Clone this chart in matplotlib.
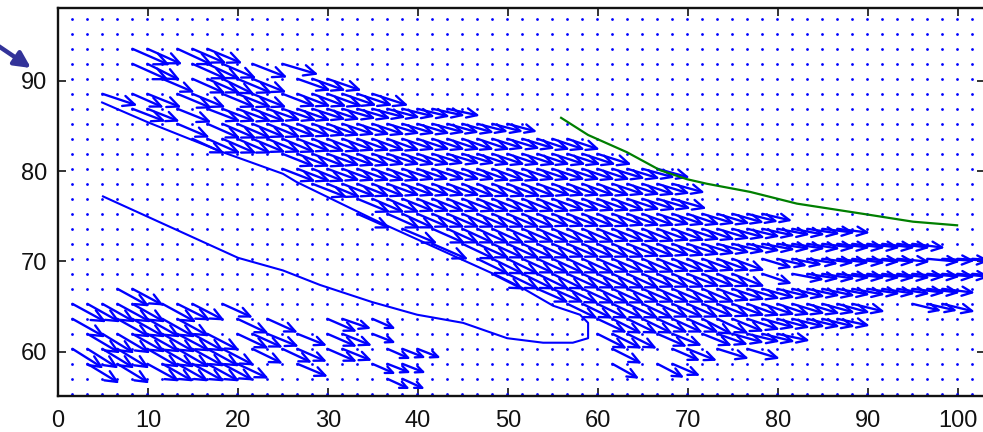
import numpy as np
import matplotlib
matplotlib.use('Agg')
import matplotlib.pyplot as plt
from matplotlib.collections import LineCollection

# wind field, one set of lists per grid row (rows with arrows only, rest are calm)
c23 = [4, 5, 7, 8, 9]
u23 = [3.9, 3.6, 3.7, 3.5, 3.6]
v23 = [-1.7, -1.6, -1.7, -1.5, -1.5]
c22 = [4, 5, 8, 9, 10, 12, 14]
u22 = [3.8, 3.4, 3.6, 3.4, 3.5, 3.6, 3.7]
v22 = [-1.7, -1.7, -1.6, -1.6, -1.5, -1.4, -1.1]
c21 = [6, 8, 9, 10, 11, 12, 15, 16, 17]
u21 = [3.3, 3.4, 3.4, 3.3, 3.6, 3.5, 3.4, 3.4, 3.5]
v21 = [-1.4, -1.5, -1.5, -1.6, -1.5, -1.4, -1.2, -1.2, -1.2]
c20 = [2, 4, 5, 7, 8, 10, 11, 12, 14, 15, 16, 17, 18, 19, 20]
u20 = [3.6, 3.2, 3.5, 3.6, 3.4, 3.4, 3.5, 3.5, 3.4, 3.4, 3.5, 3.6, 3.5, 3.6, 3.7]
v20 = [-1.2, -1.4, -1.4, -1.5, -1.4, -1.4, -1.4, -1.4, -1.3, -1.3, -1.3, -1.3, -1.2, -1.2, -1.2]
c19 = [4, 5, 7] + list(range(9, 26))
u19 = [3.4, 3.3, 3.5, 3.4, 3.4, 3.5, 3.4, 3.4, 3.5, 3.4, 3.4, 3.3, 3.4, 3.4, 3.4, 3.3, 3.3, 3.3, 3.3, 3.3]
v19 = [-1.3, -1.3, -1.4, -1.3, -1.3, -1.3, -1.3, -1.2, -1.2, -1.2, -1.1, -1.1, -1.0, -1.0, -0.9, -0.9, -0.8, -0.8, -0.7, -0.7]
c18 = [7] + list(range(9, 30))
u18 = [3.3, 3.4, 3.5, 3.5, 3.4, 3.4, 3.4, 3.4, 3.4, 3.3, 3.3, 3.3, 3.3, 3.3, 3.3, 3.3, 3.3, 3.2, 3.2, 3.1, 3.1, 3.0]
v18 = [-1.4, -1.5, -1.5, -1.5, -1.4, -1.4, -1.3, -1.3, -1.2, -1.2, -1.1, -1.1, -1.1, -1.0, -1.0, -1.0, -0.9, -0.9, -0.9, -0.8, -0.8, -0.8]
c17 = list(range(8, 34))
u17 = [3.3, 3.4, 3.5, 3.5, 3.4, 3.4, 3.4, 3.4, 3.3, 3.4, 3.3, 3.3, 3.3, 3.3, 3.3, 3.3, 3.3, 3.3, 3.2, 3.3, 3.2, 3.3, 3.3, 3.3, 3.3, 3.3]
v17 = [-1.5, -1.5, -1.5, -1.5, -1.4, -1.4, -1.4, -1.3, -1.3, -1.3, -1.2, -1.2, -1.2, -1.2, -1.1, -1.1, -1.1, -1.1, -1.1, -1.1, -1.0, -1.0, -1.0, -1.1, -1.1, -1.1]
c16 = list(range(14, 36))
u16 = [3.3, 3.3, 3.4, 3.3, 3.3, 3.3, 3.3, 3.3, 3.3, 3.3, 3.2, 3.3, 3.3, 3.3, 3.3, 3.3, 3.4, 3.3, 3.4, 3.4, 3.4, 3.5]
v16 = [-1.3, -1.3, -1.3, -1.2, -1.2, -1.2, -1.1, -1.1, -1.1, -1.1, -1.0, -1.0, -1.0, -1.1, -1.1, -1.1, -1.1, -1.1, -1.1, -1.1, -1.1, -1.1]
c15 = list(range(14, 40))
u15 = [3.4, 3.4, 3.3, 3.3, 3.3, 3.3, 3.3, 3.3, 3.3, 3.2, 3.3, 3.3, 3.3, 3.3, 3.3, 3.3, 3.3, 3.3, 3.3, 3.3, 3.3, 3.3, 3.3, 3.3, 3.3, 3.3]
v15 = [-1.3, -1.3, -1.3, -1.2, -1.2, -1.2, -1.2, -1.2, -1.1, -1.1, -1.1, -1.1, -1.1, -1.2, -1.2, -1.2, -1.1, -1.1, -1.1, -1.1, -1.1, -1.1, -1.0, -1.0, -0.9, -0.9]
c14 = list(range(16, 41))
u14 = [3.6, 3.4, 3.4, 3.3, 3.3, 3.3, 3.3, 3.3, 3.3, 3.3, 3.3, 3.3, 3.4, 3.4, 3.4, 3.4, 3.3, 3.3, 3.3, 3.3, 3.3, 3.3, 3.3, 3.3, 3.3]
v14 = [-1.4, -1.4, -1.3, -1.3, -1.3, -1.2, -1.2, -1.2, -1.2, -1.2, -1.3, -1.3, -1.3, -1.3, -1.3, -1.2, -1.2, -1.2, -1.2, -1.2, -1.1, -1.1, -1.1, -1.0, -0.9]
c13 = list(range(19, 41))
u13 = [3.4, 3.3, 3.3, 3.3, 3.3, 3.3, 3.3, 3.4, 3.3, 3.3, 3.3, 3.3, 3.3, 3.3, 3.3, 3.3, 3.3, 3.3, 3.3, 3.4, 3.4, 3.5]
v13 = [-1.4, -1.4, -1.4, -1.3, -1.3, -1.3, -1.3, -1.3, -1.3, -1.3, -1.3, -1.3, -1.3, -1.2, -1.2, -1.2, -1.2, -1.2, -1.1, -1.1, -1.0, -1.0]
c12 = [19] + list(range(21, 47))
u12 = [3.4, 3.4, 3.3, 3.3, 3.3, 3.3, 3.3, 3.3, 3.3, 3.3, 3.3, 3.3, 3.3, 3.3, 3.3, 3.3, 3.3, 3.3, 3.3, 3.3, 3.3, 3.3, 3.3, 3.3, 3.2, 3.1, 3.0]
v12 = [-1.5, -1.5, -1.5, -1.4, -1.4, -1.4, -1.4, -1.4, -1.4, -1.4, -1.4, -1.3, -1.3, -1.3, -1.3, -1.3, -1.2, -1.2, -1.2, -1.1, -1.1, -1.1, -1.0, -1.0, -0.9, -0.8, -0.7]
c11 = [22] + list(range(24, 52))
u11 = [3.6, 3.4, 3.3, 3.3, 3.3, 3.3, 3.3, 3.3, 3.3, 3.3, 3.3, 3.3, 3.3, 3.3, 3.3, 3.3, 3.3, 3.3, 3.3, 3.3, 3.3, 3.3, 3.3, 3.3, 3.3, 3.3, 3.3, 3.3, 3.3]
v11 = [-1.5, -1.5, -1.5, -1.5, -1.5, -1.5, -1.4, -1.4, -1.4, -1.4, -1.4, -1.4, -1.3, -1.3, -1.3, -1.3, -1.2, -1.2, -1.1, -1.1, -1.0, -0.9, -0.8, -0.7, -0.6, -0.6, -0.5, -0.4, -0.4]
c10 = [24] + list(range(26, 57))
u10 = [3.7, 3.4, 3.3, 3.3, 3.3, 3.3, 3.3, 3.3, 3.3, 3.3, 3.3, 3.3, 3.3, 3.3, 3.3, 3.3, 3.3, 3.3, 3.3, 3.3, 3.3, 3.3, 3.3, 3.3, 3.3, 3.3, 3.3, 3.3, 3.3, 3.3, 3.3, 3.3]
v10 = [-1.6, -1.6, -1.5, -1.5, -1.5, -1.5, -1.5, -1.4, -1.4, -1.4, -1.4, -1.4, -1.3, -1.3, -1.2, -1.2, -1.1, -1.0, -0.9, -0.8, -0.7, -0.6, -0.5, -0.5, -0.5, -0.4, -0.4, -0.4, -0.4, -0.4, -0.4, -0.4]
c9 = list(range(27, 45)) + list(range(46, 56)) + [57, 58, 59, 60]
u9 = [3.3, 3.3, 3.3, 3.3, 3.3, 3.3, 3.3, 3.3, 3.3, 3.3, 3.3, 3.3, 3.3, 3.3, 3.3, 3.3, 3.3, 3.3, 3.0, 3.0, 3.0, 3.1, 3.2, 3.2, 3.3, 3.3, 3.3, 3.3, 3.3, 3.3, 3.3, 3.3]
v9 = [-1.6, -1.6, -1.6, -1.5, -1.5, -1.5, -1.5, -1.5, -1.4, -1.4, -1.4, -1.4, -1.3, -1.3, -1.3, -1.2, -1.2, -1.2, -0.9, -0.7, -0.6, -0.5, -0.4, -0.4, -0.4, -0.3, -0.3, -0.3, -0.3, -0.2, -0.2, -0.2]
c8 = list(range(28, 45)) + [46] + list(range(48, 61))
u8 = [3.2, 3.3, 3.3, 3.3, 3.3, 3.3, 3.3, 3.3, 3.3, 3.3, 3.3, 3.3, 3.3, 3.3, 3.3, 3.3, 3.3, 3.0, 3.2, 3.2, 3.3, 3.3, 3.3, 3.3, 3.3, 3.3, 3.3, 3.3, 3.3, 3.3, 3.3]
v8 = [-1.6, -1.6, -1.6, -1.6, -1.6, -1.5, -1.5, -1.5, -1.5, -1.5, -1.4, -1.4, -1.4, -1.3, -1.3, -1.3, -1.3, -1.0, -0.6, -0.5, -0.5, -0.4, -0.4, -0.4, -0.4, -0.4, -0.3, -0.3, -0.3, -0.3, -0.3]
c7 = list(range(31, 59))
u7 = [3.2, 3.2, 3.2, 3.3, 3.3, 3.3, 3.3, 3.3, 3.3, 3.3, 3.3, 3.3, 3.3, 3.3, 3.3, 3.3, 3.3, 3.3, 3.3, 3.3, 3.3, 3.3, 3.3, 3.3, 3.3, 3.3, 3.3, 3.3]
v7 = [-1.4, -1.4, -1.5, -1.5, -1.5, -1.5, -1.4, -1.4, -1.4, -1.4, -1.4, -1.4, -1.2, -1.1, -1.0, -0.9, -0.8, -0.8, -0.7, -0.7, -0.6, -0.6, -0.5, -0.5, -0.5, -0.4, -0.4, -0.4]
c6 = list(range(33, 53)) + [56, 57, 58]
u6 = [3.1, 3.1, 3.1, 3.2, 3.2, 3.2, 3.2, 3.2, 3.2, 3.2, 3.3, 3.3, 3.3, 3.3, 3.3, 3.3, 3.3, 3.3, 3.3, 3.3, 2.9, 3.0, 3.3]
v6 = [-1.5, -1.5, -1.5, -1.5, -1.5, -1.5, -1.4, -1.4, -1.4, -1.3, -1.3, -1.2, -1.2, -1.1, -1.1, -1.0, -1.0, -0.9, -0.9, -0.8, -0.7, -0.7, -0.8]
c5 = list(range(35, 52))
u5 = [3.0, 3.0, 3.1, 3.1, 3.1, 3.1, 3.2, 3.1, 3.2, 3.2, 3.3, 3.3, 3.3, 3.3, 3.3, 3.3, 3.3]
v5 = [-1.4, -1.5, -1.5, -1.5, -1.4, -1.4, -1.4, -1.6, -1.5, -1.3, -1.1, -0.9, -0.9, -0.8, -0.8, -0.8, -0.7]
c4 = [35, 36, 37, 39, 40, 42, 43, 44, 45, 46, 47]
u4 = [3.0, 3.0, 3.0, 3.0, 3.0, 3.0, 3.1, 3.2, 3.3, 3.3, 3.3]
v4 = [-1.5, -1.5, -1.5, -1.3, -1.2, -1.2, -1.1, -0.9, -0.8, -0.8, -0.7]
c3 = [36, 40, 41, 43, 45]
u3 = [3.0, 2.8, 3.0, 3.2, 3.3]
v3 = [-1.5, -1.2, -1.2, -1.0, -1.0]
c2 = [36, 39, 40]
u2 = [2.7, 2.7, 2.8]
v2 = [-1.5, -1.4, -1.2]
c1 = [21, 22]
u1 = [2.2, 2.2]
v1 = [-1.0, -1.0]

# lower left patch (same rows, kept apart)
d7 = [3, 4]
p7 = [3.3, 3.2]
q7 = [-1.8, -1.7]
d6 = [0, 1, 2, 3, 4, 6, 7, 8, 10]
p6 = [3.5, 3.4, 3.4, 3.5, 3.4, 3.5, 3.4, 3.3, 3.1]
q6 = [-1.9, -1.9, -1.9, -1.9, -1.9, -1.9, -1.7, -1.7, -1.4]
d5 = [0, 3, 4, 5, 6, 7, 11, 13, 17, 18, 20]
p5 = [3.4, 3.4, 3.4, 3.4, 3.4, 3.3, 3.2, 3.1, 3.0, 2.9, 2.3]
q5 = [-1.9, -1.9, -1.9, -1.9, -1.9, -1.8, -1.5, -1.4, -1.3, -1.0, -1.0]
d4 = [1, 2, 3, 4, 5, 6, 7, 8, 9, 11, 12, 13, 15, 17, 18, 20]
p4 = [3.4, 3.3, 3.4, 3.4, 3.4, 3.4, 3.4, 3.3, 3.3, 3.2, 3.1, 3.2, 3.0, 3.0, 3.0, 2.3]
q4 = [-2.0, -2.0, -2.0, -1.9, -1.9, -1.9, -1.8, -1.8, -1.7, -1.5, -1.4, -1.3, -1.2, -1.3, -1.2, -0.9]
d3 = [0, 1, 2, 3, 5, 6, 7, 8, 9, 10, 12, 14, 15, 17, 18, 21, 22, 23]
p3 = [3.2, 3.2, 3.3, 3.3, 3.3, 3.3, 3.3, 3.3, 3.3, 3.3, 3.1, 3.0, 3.0, 3.0, 3.0, 2.3, 2.3, 2.3]
q3 = [-2.0, -2.0, -2.0, -2.0, -1.9, -1.9, -1.9, -1.8, -1.8, -1.7, -1.5, -1.4, -1.3, -1.3, -1.2, -1.0, -0.9, -0.9]
d2 = [1, 3, 5, 6, 7, 8, 9, 10, 11, 15, 20, 21, 22]
p2 = [3.3, 3.3, 3.3, 3.2, 3.2, 3.3, 3.3, 3.2, 3.2, 3.1, 2.3, 2.3, 2.3]
q2 = [-2.0, -2.0, -1.8, -1.8, -1.8, -1.8, -1.8, -1.7, -1.5, -1.3, -1.0, -0.9, -0.9]

# contour lines
blue_x = [4.9, 10, 18.3, 25, 26.5, 35.8, 49.1, 51.7, 55, 58, 58.9, 58.9, 57.2, 53.9, 49.9, 45, 39.9, 34.9, 29.1, 25, 20, 5]
blue_y = [87.6, 85.4, 82.1, 79.7, 78.8, 74.3, 68.3, 67.0, 65.1, 64.1, 63.2, 61.5, 61.0, 61.0, 61.5, 63.2, 64.1, 65.5, 67.4, 69.0, 70.4, 77.2]
green_x = [55.9, 58.9, 63.2, 66.9, 69.9, 72.1, 76.9, 82.1, 89.9, 95, 99.9]
green_y = [85.9, 84.0, 82.1, 80.1, 79.1, 78.6, 77.7, 76.4, 75.2, 74.4, 74.0]

x_ticks = [0, 10, 20, 30, 40, 50, 60, 70, 80, 90, 100]
y_ticks = [60, 70, 80, 90]

rows = [(23, c23, u23, v23), (22, c22, u22, v22), (21, c21, u21, v21), (20, c20, u20, v20),
        (19, c19, u19, v19), (18, c18, u18, v18), (17, c17, u17, v17), (16, c16, u16, v16),
        (15, c15, u15, v15), (14, c14, u14, v14), (13, c13, u13, v13), (12, c12, u12, v12),
        (11, c11, u11, v11), (10, c10, u10, v10), (9, c9, u9, v9), (8, c8, u8, v8),
        (7, c7, u7, v7), (6, c6, u6, v6), (5, c5, u5, v5), (4, c4, u4, v4),
        (3, c3, u3, v3), (2, c2, u2, v2), (1, c1, u1, v1),
        (7, d7, p7, q7), (6, d6, p6, q6), (5, d5, p5, q5), (4, d4, p4, q4),
        (3, d3, p3, q3), (2, d2, p2, q2)]

plt.rcParams['font.family'] = ['Liberation Sans', 'DejaVu Sans']

W, H = 983, 432
fig = plt.figure(figsize=(W / 100, H / 100), dpi=100)
ax = fig.add_axes([58 / W, 36 / H, 927 / W, 388 / H])
ax.set_xlim(0, 103)
ax.set_ylim(55.1, 98.06)

x0, dx = 1.6, 5 / 3
y0, dy = 55.34, 1.661

# calm points
gx, gy = np.meshgrid(x0 + dx * np.arange(61), y0 + dy * np.arange(26))
ax.plot(gx.ravel(), gy.ravel(), ls='none', marker='o', ms=2.0, mew=0, color='#0000ff')

# arrows the way matlab quiver builds them, wider heads
alpha, beta = 0.34, 0.45
segs = []
for j, cols, us, vs in rows:
    for c, u, v in zip(cols, us, vs, strict=True):
        x = x0 + dx * c
        y = y0 + dy * j
        tip = (x + u, y + v)
        segs.append([(x, y), tip])
        segs.append([(x + u - alpha * (u + beta * v), y + v - alpha * (v - beta * u)), tip,
                     (x + u - alpha * (u - beta * v), y + v - alpha * (v + beta * u))])
ax.add_collection(LineCollection(segs, colors='#0000ff', linewidths=1.7, capstyle='round'))

ax.plot(blue_x, blue_y, color='#0000ff', lw=1.5)
ax.plot(green_x, green_y, color='#007f00', lw=1.6)

ax.set_xticks(x_ticks)
ax.set_yticks(y_ticks)
ax.tick_params(direction='in', top=True, right=True, length=6, width=1.2, labelsize=17, colors='#111111')
ax.tick_params(axis='x', pad=10)
ax.tick_params(axis='y', pad=8)
for s in ax.spines.values():
    s.set_linewidth(1.7)
    s.set_color('#111111')

ax.annotate('', xy=(31, H - 68), xytext=(-6, H - 43), xycoords='figure pixels', textcoords='figure pixels',
            arrowprops=dict(arrowstyle='-|>', color='#333399', lw=3.2, mutation_scale=24, shrinkA=0, shrinkB=0),
            annotation_clip=False)

fig.savefig('out.png', dpi=100)
